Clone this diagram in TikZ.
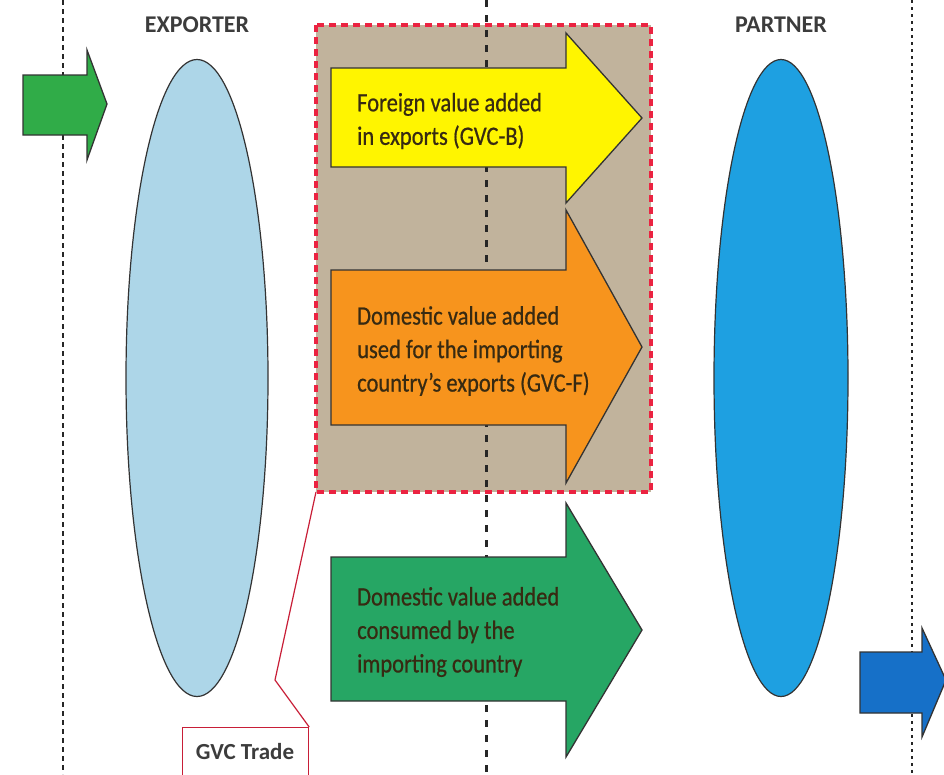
\documentclass[tikz,border=0pt]{standalone}
\usepackage{fontspec}
\setmainfont[FakeStretch=0.85,FakeBold=0.6]{Carlito}
\newfontfamily\headfont{Carlito}
\usetikzlibrary{shapes.geometric}
\begin{document}
\begin{tikzpicture}[x=1pt,y=-1pt,
  arrowshape/.style={draw=black!80, line width=1.3pt, line join=miter},
  arrowtext/.style={anchor=west, align=left, inner sep=0pt, text=txtc, font=\fontsize{26.5}{33.5}\selectfont},
  heading/.style={inner sep=0pt, text=headc, font=\headfont\fontsize{24}{28}\selectfont\bfseries},
  sepline/.style={black!85, line width=1.8pt, dash pattern=on 5pt off 4pt}]
\definecolor{tanc}{RGB}{193,179,156}
\definecolor{redd}{RGB}{235,35,65}
\definecolor{yel}{RGB}{255,245,0}
\definecolor{orn}{RGB}{247,148,29}
\definecolor{bgreen}{RGB}{38,166,100}
\definecolor{sgreen}{RGB}{48,172,72}
\definecolor{lblue}{RGB}{173,214,232}
\definecolor{pblue}{RGB}{30,160,225}
\definecolor{dblue}{RGB}{22,112,200}
\definecolor{txtc}{RGB}{55,42,18}
\definecolor{headc}{RGB}{60,60,60}
\useasboundingbox (0,0) rectangle (944,774);
\clip (0,0) rectangle (944,774);
\fill[white] (0,0) rectangle (944,774);
% separator lines
\draw[sepline] (63,0) -- (63,774);
\draw[black!85, line width=1.8pt, dash pattern=on 3pt off 4pt] (912,0) -- (912,774);
% GVC trade box
\fill[tanc] (316,25) rectangle (651,492);
\draw[black!85, line width=3pt, dash pattern=on 7pt off 8pt] (486,0) -- (486,774);
\draw[redd, line width=3.5pt, dash pattern=on 7pt off 5pt] (316,25) rectangle (651,492);
% ellipses
\node[draw=black!80, line width=1.2pt, fill=lblue, shape=ellipse, minimum width=142pt, minimum height=637pt, inner sep=0pt] (exp) at (197,378) {};
\node[draw=black!80, line width=1.2pt, fill=pblue, shape=ellipse, minimum width=134pt, minimum height=637pt, inner sep=0pt] (par) at (781,378) {};
\node[heading] (exph) at (197,25) {EXPORTER};
\node[heading] (parh) at (781,25) {PARTNER};
% small arrows
\draw[arrowshape, fill=sgreen] (23,75) -- (87,75) -- (87,50) -- (107,104) -- (87,160) -- (87,135) -- (23,135) -- cycle;
\draw[arrowshape, fill=dblue] (860,652) -- (922,652) -- (922,628) -- (946,680) -- (922,737) -- (922,713) -- (860,713) -- cycle;
% big arrows
\draw[arrowshape, fill=yel] (331,68) -- (566,68) -- (566,33) -- (642,118) -- (566,203) -- (566,167) -- (331,167) -- cycle;
\draw[arrowshape, fill=orn] (331,270) -- (566,270) -- (566,210) -- (642,347) -- (566,483) -- (566,425) -- (331,425) -- cycle;
\draw[arrowshape, fill=bgreen] (331,557) -- (566,557) -- (566,503) -- (642,630) -- (566,757) -- (566,701) -- (331,701) -- cycle;
\node[arrowtext] (tb) at (357,121) {Foreign value added\\in exports (GVC-B)};
\node[arrowtext] (tf) at (357,351) {Domestic value added\\used for the importing\\country's exports (GVC-F)};
\node[arrowtext] (td) at (357,632) {Domestic value added\\consumed by the\\importing country};
% callout
\node[draw=redd!85!black, line width=1.2pt, fill=white, minimum width=126pt, minimum height=60pt, anchor=north west, inner sep=0pt] (gvc) at (182,727) {};
\node[text=headc, inner sep=0pt, font=\headfont\fontsize{23}{27}\selectfont\bfseries] (gvct) at (245,752) {GVC Trade};
\coordinate (bend) at (275,680);
\coordinate (boxc) at (316,492);
\draw[redd!85!black, line width=1.2pt] (gvc.north east) -- (bend) -- (boxc);
\end{tikzpicture}
\end{document}
